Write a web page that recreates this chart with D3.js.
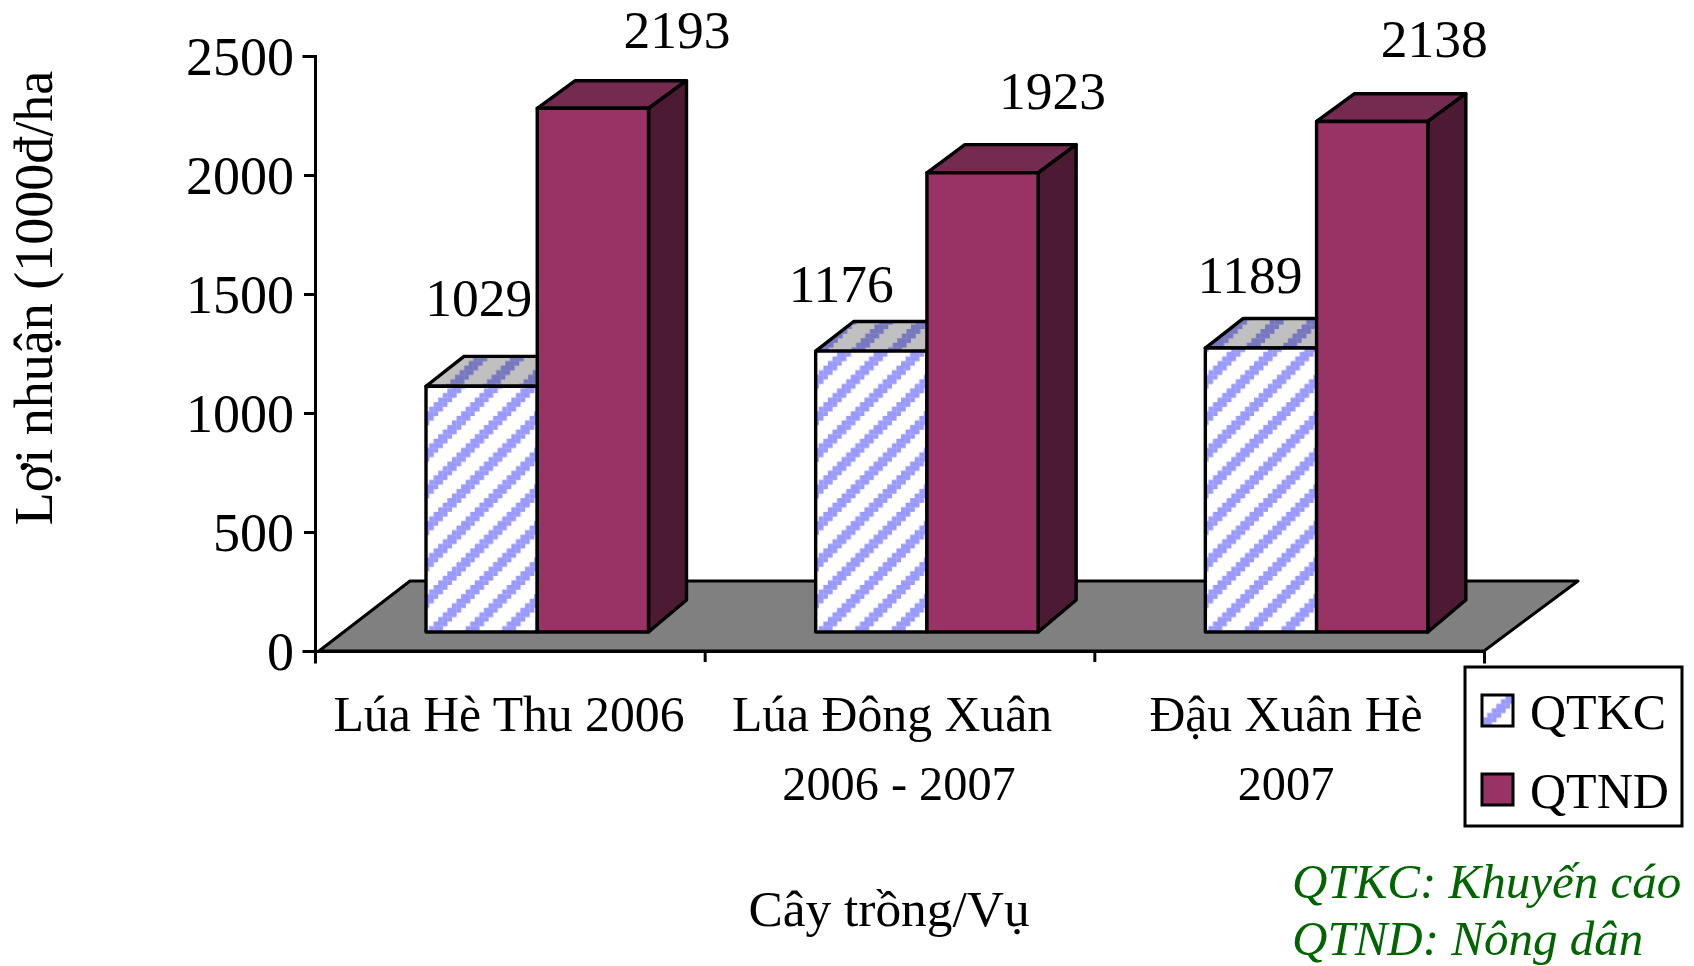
<!DOCTYPE html>
<html><head><meta charset="utf-8">
<script src="https://cdn.jsdelivr.net/npm/d3@7"></script>
<style>html,body{margin:0;padding:0;background:#fff;overflow:hidden}svg{display:block}text{font-family:"Liberation Serif",serif;fill:#000}</style>
</head><body><svg id="c" width="1694" height="966"></svg>
<script>
const categories = ["Lúa Hè Thu 2006", "Lúa Đông Xuân", "Đậu Xuân Hè"];
const categorySecondLine = ["", "2006 - 2007", "2007"];
const seriesNames = ["QTKC", "QTND"];
const qtkc = [1029, 1176, 1189];
const qtnd = [2193, 1923, 2138];
const yTicks = [0, 500, 1000, 1500, 2000, 2500];
const yTitle = "Lợi nhuận (1000đ/ha";
const xTitle = "Cây trồng/Vụ";
const notes = ["QTKC: Khuyến cáo", "QTND: Nông dân"];

const svg = d3.select("#c");
const DX = 38;
const yAxisS = d3.scaleLinear().domain([0, 2500]).range([651, 56]);
const yFront = d3.scaleLinear().domain([0, 2500]).range([632, 35]);
const yBack = d3.scaleLinear().domain([0, 2500]).range([600, 8]);
const xEdge = d3.scaleLinear().domain([0, 3]).range([315, 1484]);
const xSeries = d3.scaleBand().domain(seriesNames).range([0, 222.5]);
const barLeft = (i, name) => xEdge(i) + 111 + xSeries(name);
const barW = xSeries.bandwidth();

const defs = svg.append("defs");
function pat(id, bg, fg, sum) {
  // 8x8 "wide upward diagonal" pattern; sum = x+y at the centre of a stripe
  const cell = 4.57, n = 8;
  const p = defs.append("pattern").attr("id", id).attr("patternUnits", "userSpaceOnUse")
    .attr("width", cell * n).attr("height", cell * n).attr("x", sum - 8.5 * cell).attr("y", 0);
  p.append("rect").attr("width", cell * n).attr("height", cell * n).attr("fill", bg);
  d3.range(n).forEach(r => d3.range(3).forEach(k => {
    p.append("rect").attr("x", ((n - 1 - r + k) % n) * cell).attr("y", r * cell)
      .attr("width", cell + .2).attr("height", cell + .2).attr("fill", fg);
  }));
}
const topPhase = [-2, 14, 15];
categories.forEach((c, i) => {
  const anchor = barLeft(i, "QTKC") + yFront(0);
  pat("front" + i, "#fff", "#9999ff", anchor + 4);
  pat("top" + i, "#c0c0c0", "#7777c0", anchor + topPhase[i]);
});
pat("legendFill", "#fff", "#9999ff", 2207);

// floor
const floorBackY = 581, floorFrontY = yAxisS(0);
svg.append("path").attr("d", d3.line()([
  [xEdge(0) + 4, floorFrontY], [xEdge(0) + 95, floorBackY], [xEdge(3) + 94, floorBackY], [xEdge(3), floorFrontY]
]) + "Z").attr("fill", "#808080").attr("stroke", "#000").attr("stroke-width", 3).attr("stroke-linejoin", "round");

// axes
const yAxis = svg.append("g").attr("transform", "translate(315,0)")
  .call(d3.axisLeft(yAxisS).tickValues(yTicks).tickSize(11).tickPadding(10).tickFormat(d3.format("d")));
const xAxis = svg.append("g").attr("transform", `translate(0,${floorFrontY})`)
  .call(d3.axisBottom(xEdge).tickValues([0, 1, 2, 3]).tickSize(11).tickFormat(""));
[yAxis, xAxis].forEach(g => {
  g.selectAll("path,line").attr("stroke", "#000").attr("stroke-width", 3);
  g.select("path").attr("stroke-linecap", "square");
});
yAxis.selectAll("text").attr("font-size", 54).attr("font-family", "Liberation Serif").attr("dy", "0.34em");

// bars
function drawBar(i, name, v) {
  const x0 = barLeft(i, name), x1 = x0 + barW, yf = yFront(v), yb = yBack(v), g = svg.append("g");
  const isK = name === "QTKC";
  const st = s => s.attr("stroke", "#000").attr("stroke-width", 3.4).attr("stroke-linejoin", "round");
  st(g.append("path").attr("d", d3.line()([[x0, yf], [x0 + DX, yb], [x1 + DX, yb], [x1, yf]]) + "Z")
    .attr("fill", isK ? `url(#top${i})` : "#752a50"));
  if (!isK)
    st(g.append("path").attr("d", d3.line()([[x1, yf], [x1 + DX, yb], [x1 + DX, yBack(0)], [x1, yFront(0)]]) + "Z").attr("fill", "#4c1a33"));
  st(g.append("rect").attr("x", x0).attr("y", yf).attr("width", barW).attr("height", yFront(0) - yf)
    .attr("fill", isK ? `url(#front${i})` : "#993366"));
}
qtkc.forEach((v, i) => drawBar(i, "QTKC", v));
qtnd.forEach((v, i) => drawBar(i, "QTND", v));

// data labels (hand-placed in the original)
const labelNudge = {
  QTKC: [[-3, -70], [-30, -49], [-11, -55]],
  QTND: [[84, -60], [70, -64], [62, -64]]
};
seriesNames.forEach((name, s) => {
  (s ? qtnd : qtkc).forEach((v, i) => {
    svg.append("text").attr("x", barLeft(i, name) + barW / 2 + labelNudge[name][i][0]).attr("y", yFront(v) + labelNudge[name][i][1])
      .attr("text-anchor", "middle").attr("font-size", 53.5).text(v);
  });
});

// category labels
const catCx = [509, 892, 1286];
categories.forEach((c, i) => {
  svg.append("text").attr("x", catCx[i]).attr("y", 731).attr("text-anchor", "middle").attr("font-size", 49.7).text(c);
  svg.append("text").attr("x", catCx[i] + (i === 1 ? 7 : 0)).attr("y", 800).attr("text-anchor", "middle").attr("font-size", 48.3).text(categorySecondLine[i]);
});
svg.append("text").attr("x", 889).attr("y", 926).attr("text-anchor", "middle").attr("font-size", 51.4).text(xTitle);
svg.append("text").attr("transform", "translate(52,298) rotate(-90)").attr("text-anchor", "middle").attr("font-size", 54).text(yTitle);

// legend
svg.append("rect").attr("x", 1465).attr("y", 667).attr("width", 217).attr("height", 159).attr("fill", "#fff").attr("stroke", "#000").attr("stroke-width", 3);
seriesNames.forEach((n, i) => {
  svg.append("rect").attr("x", 1482).attr("y", 695 + i * 79).attr("width", 31).attr("height", 31)
    .attr("fill", i ? "#993366" : "url(#legendFill)").attr("stroke", "#000").attr("stroke-width", 3);
  svg.append("text").attr("x", 1530).attr("y", 729 + i * 79).attr("font-size", 50).text(n);
});
notes.forEach((t, i) => svg.append("text").attr("x", 1292).attr("y", 898 + i * 57)
  .attr("font-size", 49).attr("font-style", "italic").style("fill", "#006400").text(t));
</script></body></html>
